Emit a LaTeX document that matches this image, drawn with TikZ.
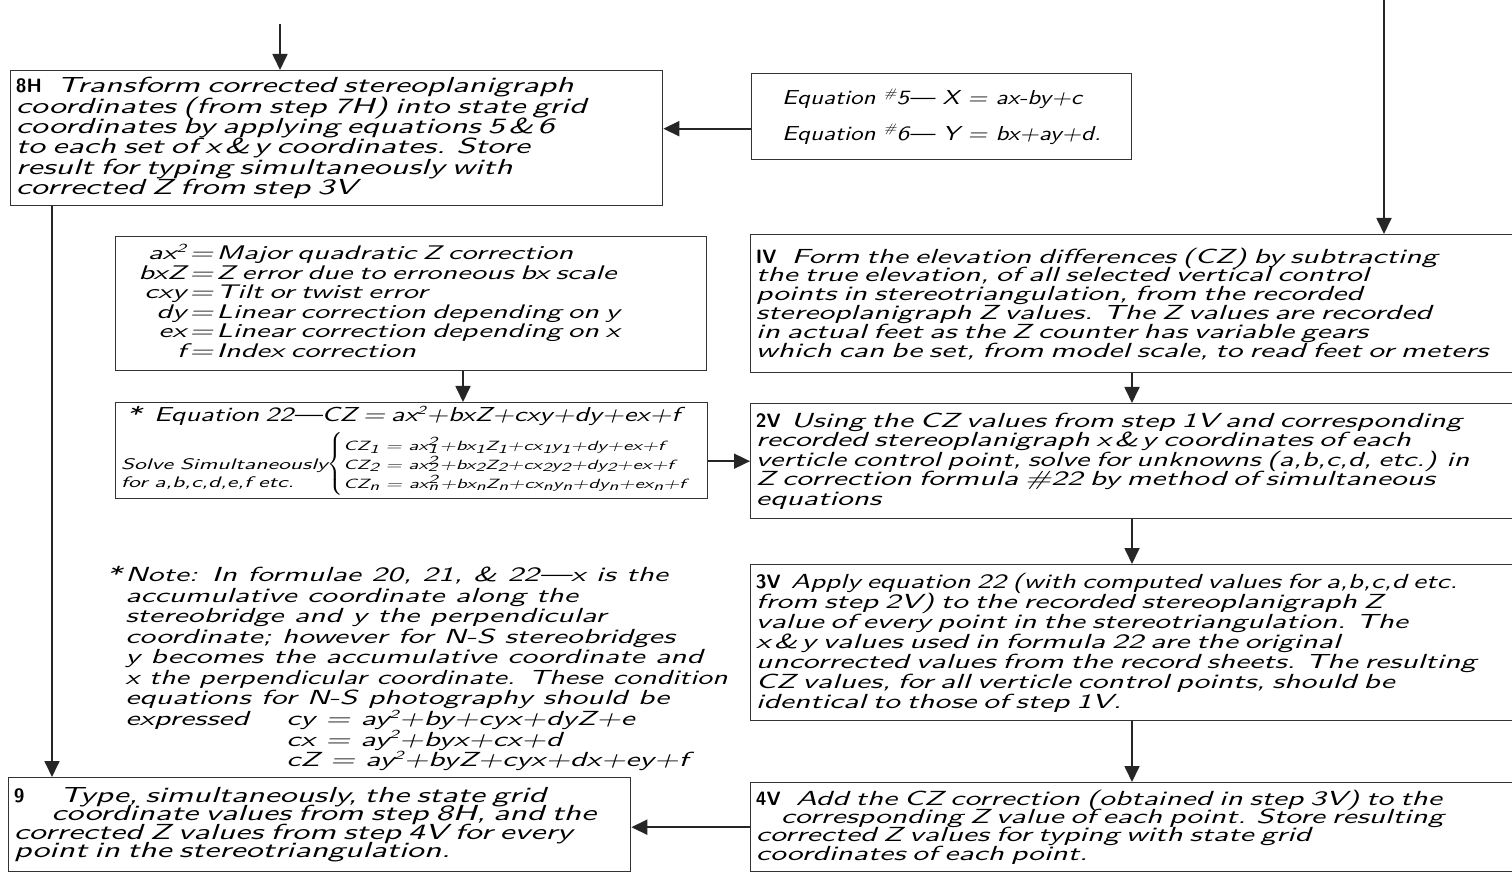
\documentclass[tikz,border=0pt]{standalone}
\usepackage{fontspec}
\newfontfamily\handfont{lmsans10-oblique.otf}[FakeStretch=1.55]
\newfontfamily\stepfont{lmsans10-bold.otf}
\usetikzlibrary{positioning, arrows.meta}

% hand lettering at a given size and line distance
\newcommand{\hand}[2]{\handfont\fontsize{#1}{#2}\selectfont\lineskiplimit=-20pt\relax}
\newcommand{\handtab}[1]{\handfont\fontsize{#1}{11}\selectfont}
\newcommand{\nr}[1]{{\stepfont\fontsize{11}{11}\selectfont #1}}
\newcommand{\hi}[1]{\raisebox{0.8ex}{\scriptsize #1}}
\newcommand{\lo}[1]{\raisebox{-0.4ex}{\scriptsize #1}}
\newcommand{\hilo}[2]{\rlap{\raisebox{-0.4ex}{\scriptsize #1}}\raisebox{0.8ex}{\scriptsize #2}}

\begin{document}
\begin{tikzpicture}[
    x=0.02cm, y=-0.02cm,
    stepbox/.style={draw=black!80, line width=0.8pt, anchor=north west, align=left,
                    inner xsep=3pt, inner ysep=0pt, font=\hand{12}{11.4}},
    vstep/.style={stepbox, text width=15.99cm, font=\hand{11.6}{#1}},
    flow/.style={draw=black!85, line width=1pt, -{Triangle[length=3.2mm, width=3mm]}},
]
\clip (0,0) rectangle (1512,874);
\fill[white] (0,0) rectangle (1512,874);

% horizontal steps
\node[stepbox, text width=12.83cm, minimum height=2.7cm, font=\hand{12.4}{11.6}] (s8H) at (10,70) {%
\nr{8H}\hspace{0.3cm}Transform corrected stereoplanigraph\\
coordinates (from step 7H) into state grid\\
coordinates by applying equations 5\,\&\,6\\
to each set of x\,\&\,y coordinates. Store\\
result for typing simultaneously with\\
corrected Z from step 3V};

\node[stepbox, minimum width=7.6cm, minimum height=1.72cm, font=\hand{11.5}{11}] (eq56) at (751,73) {%
\scalebox{0.8}[1]{Equation \hi{\#}5— X = ax-by+c}\\[9pt]
\scalebox{0.8}[1]{Equation \hi{\#}6— Y = bx+ay+d.}};

\node[stepbox, text width=11.61cm, minimum height=2.68cm, font=\handtab{11.2}] (defs) at (115,236) {%
\begin{tabular}{@{\hspace{0.35cm}}r@{\,=\,}l@{}}
ax\hi{2} & Major quadratic Z correction\\
bxZ & Z error due to erroneous bx scale\\
cxy & Tilt or twist error\\
dy & Linear correction depending on y\\
ex & Linear correction depending on x\\
f & Index correction
\end{tabular}};

\node[stepbox, text width=11.63cm, minimum height=1.92cm, font=\handtab{11.5}] (eq22) at (115,402) {%
\hspace*{0.1cm}{\upshape *}\hspace{0.25cm}\scalebox{0.9}[1]{Equation 22—CZ = ax\hi{2}+bxZ+cxy+dy+ex+f}\\[3pt]
\renewcommand{\arraystretch}{1.13}%
{\fontsize{8.7}{9.5}\selectfont
\begin{tabular}[c]{@{}l@{}}\\ Solve Simultaneously\\ for a,b,c,d,e,f etc.\end{tabular}}%
$\left\{\fontsize{7.6}{9.5}\selectfont\begin{tabular}{@{}l@{}}
CZ\lo{1} = ax\hilo{1}{2}\,+bx\lo{1}Z\lo{1}+cx\lo{1}y\lo{1}+dy+ex+f\\
CZ\lo{2} = ax\hilo{2}{2}\,+bx\lo{2}Z\lo{2}+cx\lo{2}y\lo{2}+dy\lo{2}+ex+f\\
CZ\lo{n} = ax\hilo{n}{2}\,+bx\lo{n}Z\lo{n}+cx\lo{n}y\lo{n}+dy\lo{n}+ex\lo{n}+f
\end{tabular}\right.$};

\node[anchor=north west, align=left, inner sep=0pt, font=\hand{11.6}{11.7}] (note) at (125,566) {%
\llap{{\upshape *}\,}Note: In formulae 20, 21, \& 22—x is the\\
accumulative coordinate along the\\
stereobridge and y the perpendicular\\
coordinate; however for N-S stereobridges\\
y becomes the accumulative coordinate and\\
\scalebox{0.95}[1]{x the perpendicular coordinate. These condition}\\
equations for N-S photography should be\\
\makebox[3.22cm][l]{expressed}cy = ay\hi{2}+by+cyx+dyZ+e\\
\hspace*{3.22cm}cx = ay\hi{2}+byx+cx+d\\
\hspace*{3.22cm}cZ = ay\hi{2}+byZ+cyx+dx+ey+f};

\node[stepbox, text width=12.23cm, minimum height=1.88cm, font=\hand{12.4}{10.4}] (s9) at (8,777) {%
\nr{9}\hspace{0.7cm}Type, simultaneously, the state grid\\
\hspace*{0.75cm}coordinate values from step 8H, and the\\
corrected Z values from step 4V for every\\
point in the stereotriangulation.};

% vertical steps
\node[vstep=10.7pt, minimum height=2.76cm] (s1V) at (750,234) {%
\nr{IV}\hspace{0.3cm}Form the elevation differences (CZ) by subtracting\\
the true elevation, of all selected vertical control\\
points in stereotriangulation, from the recorded\\
stereoplanigraph Z values. The Z values are recorded\\
in actual feet as the Z counter has variable gears\\
which can be set, from model scale, to read feet or meters};

\node[vstep=11.1pt, minimum height=2.3cm] (s2V) at (750,403) {%
\nr{2V}\hspace{0.2cm}Using the CZ values from step 1V and corresponding\\
recorded stereoplanigraph x\,\&\,y coordinates of each\\
\scalebox{0.96}[1]{verticle control point, solve for unknowns (a,b,c,d, etc.) in}\\
Z correction formula \#22 by method of simultaneous\\
equations};

\node[vstep=11.4pt, minimum height=3.12cm] (s3V) at (750,564) {%
\nr{3V}\hspace{0.2cm}\scalebox{0.92}[1]{Apply equation 22 (with computed values for a,b,c,d etc.}\\
from step 2V) to the recorded stereoplanigraph Z\\
value of every point in the stereotriangulation. The\\
x\,\&\,y values used in formula 22 are the original\\
uncorrected values from the record sheets. The resulting\\
CZ values, for all verticle control points, should be\\
identical to those of step 1V.};

\node[vstep=10.4pt, minimum height=1.78cm] (s4V) at (750,782) {%
\nr{4V}\hspace{0.3cm}Add the CZ correction (obtained in step 3V) to the\\
\hspace*{0.5cm}corresponding Z value of each point. Store resulting\\
corrected Z values for typing with state grid\\
coordinates of each point.};

% connectors
\coordinate (in8H) at (280,24);
\coordinate (in1V) at (1384,0);
\coordinate (left) at (52,0);
\coordinate (mid) at (463,0);
\coordinate (col) at (1132,0);

\draw[flow] (in8H) -- (in8H |- s8H.north);
\draw[flow] ([yshift=-0.24cm]eq56.west) -- ([yshift=-0.24cm]eq56.west -| s8H.east);
\draw[flow] (left |- s8H.south) -- (left |- s9.north);
\draw[flow] (mid |- defs.south) -- (mid |- eq22.north);
\draw[flow] (eq22.east |- s2V.west) -- (s2V.west);
\draw[flow] (in1V) -- (in1V |- s1V.north);
\draw[flow] (col |- s1V.south) -- (col |- s2V.north);
\draw[flow] (col |- s2V.south) -- (col |- s3V.north);
\draw[flow] (col |- s3V.south) -- (col |- s4V.north);
\draw[flow] (s4V.west) -- (s4V.west -| s9.east);
\end{tikzpicture}
\end{document}
